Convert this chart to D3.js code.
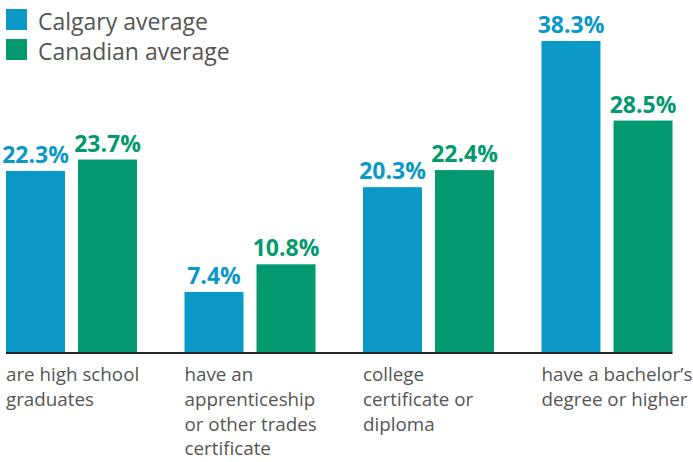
<!DOCTYPE html>
<html>
<head>
<meta charset="utf-8">
<script src="https://cdn.jsdelivr.net/npm/d3@7"></script>
<style>
  body { margin: 0; background: #fff; }
  svg { display: block; }
</style>
</head>
<body>
<svg id="drawing_region"></svg>
<script>
const categories = [
    ["are high school", "graduates"],
    ["have an", "apprenticeship", "or other trades", "certificate"],
    ["college", "certificate or", "diploma"],
    ["have a bachelor\u2019s", "degree or higher"]
];
const seriesNames = ["Calgary average", "Canadian average"];
const calgary = [22.3, 7.4, 20.3, 38.3];
const canadian = [23.7, 10.8, 22.4, 28.5];
const colors = ["#0a99c6", "#02996f"];

const width = 693, height = 462;
const baseline = 352;

const svg = d3.select('#drawing_region')
    .attr('width', width)
    .attr('height', height);

const data = categories.map((c, i) => ({ idx: i, label: c, values: [calgary[i], canadian[i]] }));

const xscale = d3.scaleBand()
    .domain(data.map(d => d.idx))
    .range([6, 672.5])
    .paddingInner(0.266)
    .paddingOuter(0);

const xsub = d3.scaleBand()
    .domain([0, 1])
    .range([0, xscale.bandwidth()])
    .paddingInner(0.181);

const yscale = d3.scaleLinear()
    .domain([0, 38.3])
    .range([baseline, 41]);

const groups = svg.selectAll('g.group')
    .data(data)
    .enter()
    .append('g')
    .attr('class', 'group')
    .attr('transform', d => `translate(${xscale(d.idx)},0)`);

groups.selectAll('rect')
    .data(d => d.values.map((v, k) => ({ k, v })))
    .enter()
    .append('rect')
    .attr('x', d => xsub(d.k))
    .attr('y', d => yscale(d.v))
    .attr('width', xsub.bandwidth())
    .attr('height', d => baseline - yscale(d.v))
    .attr('fill', d => colors[d.k]);

groups.selectAll('text.value')
    .data(d => d.values.map((v, k) => ({ k, v })))
    .enter()
    .append('text')
    .attr('class', 'value')
    .attr('x', d => xsub(d.k) + xsub.bandwidth() / 2)
    .attr('y', d => yscale(d.v) - 8)
    .attr('text-anchor', 'middle')
    .attr('font-family', 'Open Sans, sans-serif')
    .attr('font-weight', 'bold')
    .attr('font-size', 23)
    .attr('fill', d => colors[d.k])
    .text(d => d.v.toFixed(1) + '%');

// baseline axis
svg.append('line')
    .attr('x1', xscale.range()[0])
    .attr('x2', xscale.range()[1])
    .attr('y1', baseline + 1)
    .attr('y2', baseline + 1)
    .attr('stroke', '#222')
    .attr('stroke-width', 2);

// category labels
groups.append('text')
    .attr('font-family', 'Open Sans, sans-serif')
    .attr('font-size', 18.8)
    .attr('fill', '#555')
    .selectAll('tspan')
    .data(d => d.label)
    .enter()
    .append('tspan')
    .attr('x', 0)
    .attr('y', (d, i) => 381 + i * 24.8)
    .text(d => d);

// legend
const legend = svg.selectAll('g.legend')
    .data(seriesNames)
    .enter()
    .append('g')
    .attr('class', 'legend')
    .attr('transform', (d, i) => `translate(6, ${9 + i * 30})`);

legend.append('rect')
    .attr('width', 21)
    .attr('height', 21)
    .attr('fill', (d, i) => colors[i]);

legend.append('text')
    .attr('x', 32)
    .attr('y', 21)
    .attr('font-family', 'Open Sans, sans-serif')
    .attr('font-size', 23)
    .attr('fill', '#555')
    .text(d => d);
</script>
</body>
</html>
